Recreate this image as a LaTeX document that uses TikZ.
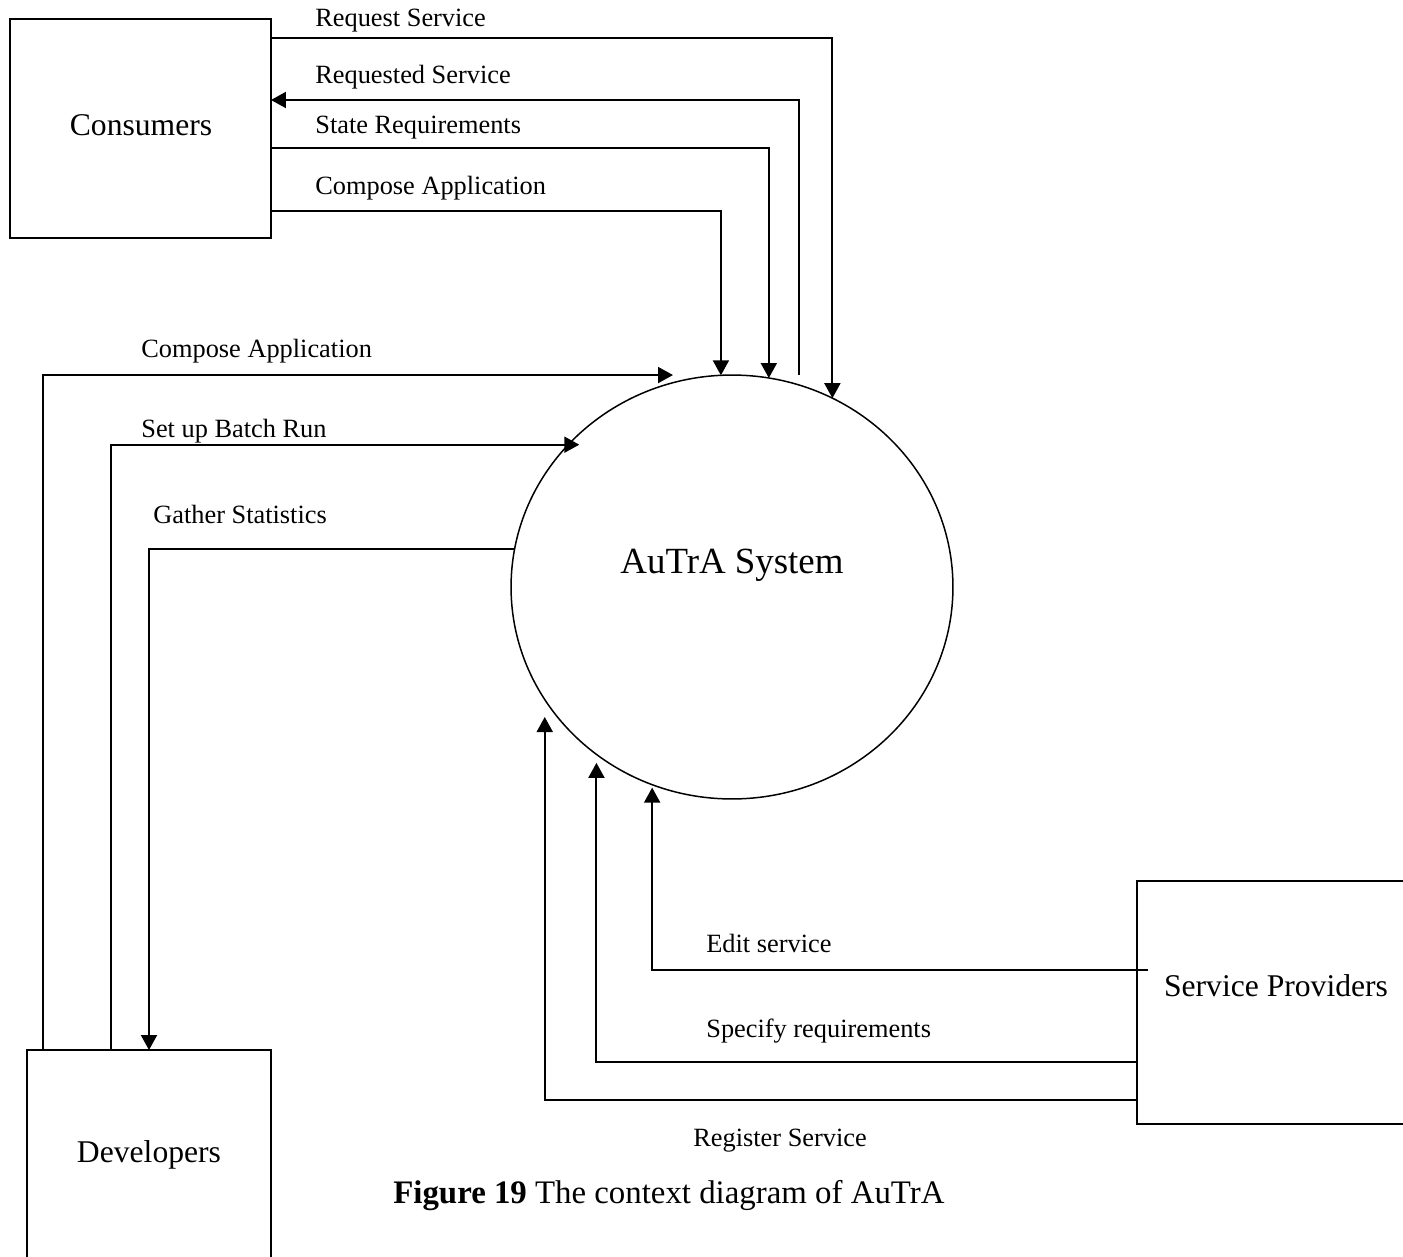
\documentclass[tikz,border=0pt]{standalone}
\usepackage{fontspec}
\setmainfont{Liberation Serif}
\usetikzlibrary{arrows.meta,shapes.geometric}

\begin{document}
\begin{tikzpicture}[
	                   x = 0.02cm,
	                   y = -0.02cm,
	     entity/.style = {draw, line width=1.1pt, outer sep=0pt, font=\fontsize{18}{22}\selectfont},
	    process/.style = {draw, ellipse, line width=0.85pt, outer sep=0pt, inner sep=0pt,
	                      minimum width=8.84cm, minimum height=8.48cm},
	       flow/.style = {draw, line width=1.1pt, -{Triangle[length=0.3cm, width=0.32cm]}},
	    flowlbl/.style = {anchor=west, inner sep=0pt, font=\fontsize{15}{18}\selectfont}
	                     ]
	\clip (0,0) rectangle (1403,1257);
	\fill[white] (0,0) rectangle (1403,1257);
	% entities and the system
	\node[entity, minimum width=5.22cm, minimum height=4.38cm] (cons) at (140.5,128.5) {};
	\node[font=\fontsize{18}{22}\selectfont] (constxt) at (141,125) {Consumers};
	\node[entity, minimum width=4.88cm, minimum height=4.2cm] (devs) at (149,1155) {Developers};
	\node[entity, minimum width=5.56cm, minimum height=4.86cm] (prov) at (1276,1002.5) {};
	\node[font=\fontsize{18}{22}\selectfont] (provtxt) at (1276,986) {Service Providers};
	\node[process] (autra) at (732,587) {};
	\node[font=\fontsize{21}{25}\selectfont] (autratxt) at (732,565) {AuTrA System};
	% consumers
	\draw[flow] (cons.east |- 0,38) -| (autra.62);
	\draw[flow] (autra.north -| 799,0) |- (cons.east |- 0,100);
	\draw[flow] (cons.east |- 0,148) -| (autra.80);
	\draw[flow] (cons.east |- 0,211) -| (autra.93);
	\node[flowlbl] at (315,21) {Request Service};
	\node[flowlbl] at (315,77) {Requested Service};
	\node[flowlbl] at (315,128) {State Requirements};
	\node[flowlbl] at (315,188) {Compose Application};
	% developers
	\draw[flow] (43,0 |- devs.north) |- (autra.north -| 673,0);
	\draw[flow, shorten >=-0.22cm] (111,0 |- devs.north) |- (autra.139);
	\draw[flow] (autra.170) -| (149,0 |- devs.north);
	\node[flowlbl] at (141,351) {Compose Application};
	\node[flowlbl] at (141,431) {Set up Batch Run};
	\node[flowlbl] at (153,514) {Gather Statistics};
	% service providers
	\coordinate (edit0) at (1148,970);
	\draw[flow, shorten >=0.06cm] (edit0) -| (autra.248);
	\draw[flow, shorten >=0.17cm] (prov.west |- 0,1062) -| (autra.231);
	\draw[flow, shorten >=0.35cm] (prov.west |- 0,1100) -| (autra.211);
	\node[flowlbl] at (706,943) {Edit service};
	\node[flowlbl] at (706,1031) {Specify requirements};
	\node[flowlbl] at (693,1141) {Register Service};
	% caption
	\node[anchor=west, inner sep=0pt, font=\fontsize{18.7}{22}\selectfont] (cap) at (393,1196)
	    {\textbf{Figure 19} The context diagram of AuTrA};
\end{tikzpicture}
\end{document}
